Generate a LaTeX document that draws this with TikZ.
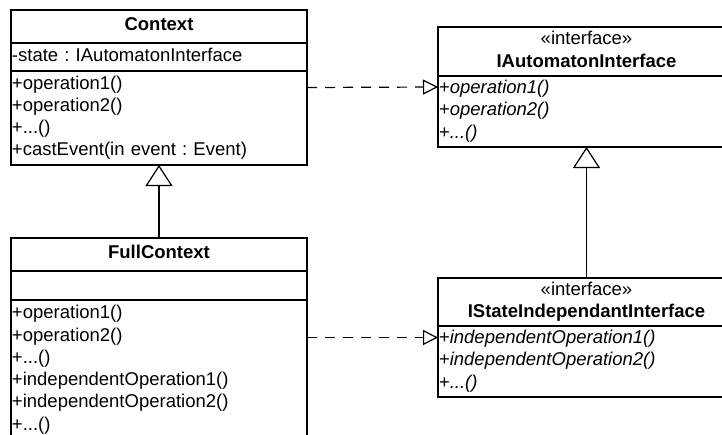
\documentclass[tikz,border=0pt]{standalone}
\usepackage{fontspec}
\setmainfont{Liberation Sans}
\frenchspacing
\usetikzlibrary{positioning, fit, arrows.meta}

\begin{document}
\begin{tikzpicture}[
            x=1pt, y=-1pt,
            umlfont/.style={font=\fontsize{18.5}{22.3}\selectfont},
            part/.style={draw, line width=1.2pt, umlfont, inner xsep=1pt, inner ysep=0pt, outer sep=0pt, text width=294pt},
            head/.style={part, align=center},
            body/.style={part, align=left},
            ihead/.style={head, text width=295pt},
            ibody/.style={body, text width=295pt},
            whole/.style={inner sep=0pt, outer sep=0pt},
            inherit/.style={line width=1.2pt, -{Triangle[open, length=21pt, width=27pt]}},
            realize/.style={line width=1.2pt, dash pattern=on 10pt off 8pt, -{Triangle[open, length=15pt, width=15pt]}}
        ]
        \useasboundingbox (0,0) rectangle (722,434);
        \clip (0,0) rectangle (722,434);

        % Context
        \node[head, minimum height=33pt, anchor=north west] (ctxtitle) at (11,10) {\strut\textbf{Context}};
        \node[body, minimum height=28pt, below=0pt of ctxtitle] (ctxattr) {\strut-state : IAutomatonInterface};
        \node[body, minimum height=94pt, below=0pt of ctxattr] (ctxops) {\strut+operation1()\\+operation2()\\+...()\\+castEvent(in event : Event)\strut};
        \node[whole, fit=(ctxtitle)(ctxops)] (context) {};

        % FullContext
        \node[head, minimum height=33pt, below=73pt of ctxops] (fulltitle) {\strut\textbf{FullContext}};
        \node[body, minimum height=29pt, below=0pt of fulltitle] (fullattr) {};
        \node[body, minimum height=140pt, below=0pt of fullattr] (fullops) {\strut+operation1()\\+operation2()\\+...()\\+independentOperation1()\\+independentOperation2()\\+...()\strut};

        % Interfaces
        \node[ihead, minimum height=49pt, anchor=north west] (iautotitle) at (438,27) {\strut«interface»\\\textbf{IAutomatonInterface}\strut};
        \node[ibody, minimum height=71pt, below=0pt of iautotitle] (iautoops) {\strut+\textit{operation1()}\\+\textit{operation2()}\\+\textit{...()}\strut};
        \node[whole, fit=(iautotitle)(iautoops)] (iauto) {};

        \node[ihead, minimum height=48pt, below=131pt of iautoops] (istatetitle) {\strut«interface»\\\textbf{IStateIndependantInterface}\strut};
        \node[ibody, minimum height=71pt, below=0pt of istatetitle] (istateops) {\strut+\textit{independentOperation1()}\\+\textit{independentOperation2()}\\+\textit{...()}\strut};
        \node[whole, fit=(istatetitle)(istateops)] (istate) {};

        % Relations
        \draw[inherit] (fulltitle.north) -- (ctxops.south);
        \draw[inherit] (istatetitle.north) -- (iautoops.south);
        \draw[realize] (context.east) -- (iauto.west);
        \draw[realize] (fullops.east |- istate.west) -- (istate.west);

    \end{tikzpicture}
\end{document}
